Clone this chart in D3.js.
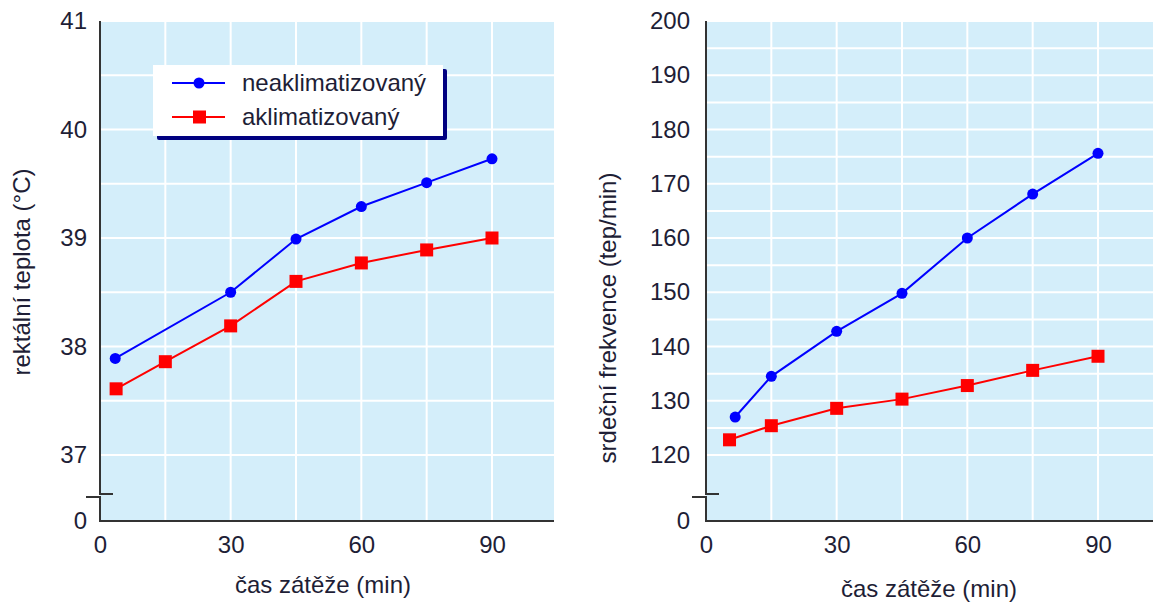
<!DOCTYPE html>
<html>
<head>
<meta charset="utf-8">
<script src="https://cdnjs.cloudflare.com/ajax/libs/d3/7.8.5/d3.min.js"></script>
<style>
  body { margin: 0; background: #fff; }
  svg { display: block; }
</style>
</head>
<body>
<script>
// Données
const casTicks = [0, 30, 60, 90];
const casGrid = [15, 30, 45, 60, 75, 90];

const teplotaTicks = [0, 37, 38, 39, 40, 41];
const teplotaGrid = [37, 37.5, 38, 38.5, 39, 39.5, 40, 40.5, 41];
const casTeplotaNeaklim = [3.5, 30, 45, 60, 75, 90];
const teplotaNeaklim = [37.89, 38.5, 38.99, 39.29, 39.51, 39.73];
const casTeplotaAklim = [3.7, 15, 30, 45, 60, 75, 90];
const teplotaAklim = [37.61, 37.86, 38.19, 38.6, 38.77, 38.89, 39.0];

const frekvTicks = [0, 120, 130, 140, 150, 160, 170, 180, 190, 200];
const frekvGrid = [120, 125, 130, 135, 140, 145, 150, 155, 160, 165, 170, 175, 180, 185, 190, 195, 200];
const casFrekvNeaklim = [6.7, 15, 30, 45, 60, 75, 90];
const frekvNeaklim = [127, 134.5, 142.8, 149.8, 160, 168.1, 175.6];
const casFrekvAklim = [5.4, 15, 30, 45, 60, 75, 90];
const frekvAklim = [122.8, 125.4, 128.6, 130.3, 132.8, 135.6, 138.2];

const serie = ['neaklimatizovaný', 'aklimatizovaný'];
const barvy = ['#0000ff', '#ff0000'];

// Paramètres
const width = 1153;
const height = 605;
const plotTop = 21;
const plotBottom = 521;
const font = '"Liberation Sans", Arial, sans-serif';
const fontSize = 24;
const textColor = '#1e1e36';

const svg = d3.select('body')
  .append('svg')
  .attr('width', width)
  .attr('height', height)
  .style('font-family', font);

function panel(opt) {
  const g = svg.append('g');

  const x = d3.scaleLinear()
    .domain([0, 90])
    .range([opt.left, opt.left + 392]);

  // échelle brisée : 0 en bas, puis la partie utile
  const y = d3.scaleLinear()
    .domain([0, opt.yMin, opt.yMax])
    .range([plotBottom, 455, plotTop]);

  // fond
  g.append('rect')
    .attr('x', opt.left)
    .attr('y', plotTop)
    .attr('width', opt.right - opt.left)
    .attr('height', plotBottom - plotTop)
    .attr('fill', '#d4eefa');

  // grille
  g.append('g')
    .selectAll('line')
    .data(opt.yGrid)
    .join('line')
    .attr('x1', opt.left)
    .attr('x2', opt.right)
    .attr('y1', d => y(d))
    .attr('y2', d => y(d))
    .attr('stroke', '#fff')
    .attr('stroke-width', 2);

  g.append('g')
    .selectAll('line')
    .data(casGrid)
    .join('line')
    .attr('x1', d => x(d))
    .attr('x2', d => x(d))
    .attr('y1', plotTop)
    .attr('y2', plotBottom)
    .attr('stroke', '#fff')
    .attr('stroke-width', 2);

  // axes
  g.append('g')
    .attr('transform', `translate(${opt.left},0)`)
    .call(d3.axisLeft(y).tickValues(opt.yTicks).tickSize(0).tickPadding(opt.pad).tickFormat(d3.format('d')))
    .call(a => a.select('.domain').remove())
    .call(a => a.attr('font-size', fontSize).attr('font-family', font))
    .call(a => a.selectAll('text').attr('fill', textColor));

  g.append('g')
    .attr('transform', `translate(0,${plotBottom})`)
    .call(d3.axisBottom(x).tickValues(casTicks).tickSize(0).tickPadding(15))
    .call(a => a.select('.domain').remove())
    .call(a => a.attr('font-size', fontSize).attr('font-family', font))
    .call(a => a.selectAll('text').attr('fill', textColor));

  // traits des axes avec la coupure
  const br = plotBottom - 27;
  g.append('path')
    .attr('d', `M${opt.left},${plotTop}V${br}H${opt.left + 13}`)
    .attr('fill', 'none')
    .attr('stroke', '#333')
    .attr('stroke-width', 2);
  g.append('path')
    .attr('d', `M${opt.left - 14},${br + 3}H${opt.left}V${plotBottom}H${opt.right}`)
    .attr('fill', 'none')
    .attr('stroke', '#333')
    .attr('stroke-width', 2);

  // séries
  opt.series.forEach((s, i) => {
    const pts = d3.zip(s.cas, s.hodnoty);
    g.append('path')
      .datum(pts)
      .attr('d', d3.line().x(d => x(d[0])).y(d => y(d[1])))
      .attr('fill', 'none')
      .attr('stroke', barvy[i])
      .attr('stroke-width', 2);

    if (i === 0) {
      g.append('g')
        .selectAll('circle')
        .data(pts)
        .join('circle')
        .attr('cx', d => x(d[0]))
        .attr('cy', d => y(d[1]))
        .attr('r', 5.5)
        .attr('fill', barvy[i]);
    } else {
      g.append('g')
        .selectAll('rect')
        .data(pts)
        .join('rect')
        .attr('x', d => x(d[0]) - 6.5)
        .attr('y', d => y(d[1]) - 6.5)
        .attr('width', 13)
        .attr('height', 13)
        .attr('fill', barvy[i]);
    }
  });

  // titres
  g.append('text')
    .attr('x', opt.left + 223)
    .attr('y', opt.xTitleY)
    .attr('text-anchor', 'middle')
    .attr('font-size', fontSize)
    .attr('fill', textColor)
    .text('čas zátěže (min)');

  g.append('text')
    .attr('transform', `translate(${opt.yTitleX},${opt.yTitleMid}) rotate(-90)`)
    .attr('text-anchor', 'middle')
    .attr('font-size', fontSize)
    .attr('fill', textColor)
    .text(opt.yTitle);
}

panel({
  left: 100,
  right: 554,
  yMin: 37,
  yMax: 41,
  yTicks: teplotaTicks,
  yGrid: teplotaGrid,
  pad: 13,
  xTitleY: 593,
  yTitleX: 30,
  yTitleMid: 272,
  yTitle: 'rektální teplota (°C)',
  series: [
    { cas: casTeplotaNeaklim, hodnoty: teplotaNeaklim },
    { cas: casTeplotaAklim, hodnoty: teplotaAklim }
  ]
});

panel({
  left: 706,
  right: 1160,
  yMin: 120,
  yMax: 200,
  yTicks: frekvTicks,
  yGrid: frekvGrid,
  pad: 16,
  xTitleY: 597,
  yTitleX: 616,
  yTitleMid: 318,
  yTitle: 'srdeční frekvence (tep/min)',
  series: [
    { cas: casFrekvNeaklim, hodnoty: frekvNeaklim },
    { cas: casFrekvAklim, hodnoty: frekvAklim }
  ]
});

// légende
const leg = svg.append('g').attr('transform', 'translate(153,65)');
leg.append('rect')
  .attr('x', 4).attr('y', 4)
  .attr('width', 290).attr('height', 71)
  .attr('rx', 2)
  .attr('fill', '#000080');
leg.append('rect')
  .attr('width', 290).attr('height', 71)
  .attr('fill', '#fff');

const item = leg.selectAll('g')
  .data(serie)
  .join('g')
  .attr('transform', (d, i) => `translate(0,${18 + i * 34})`);

item.append('line')
  .attr('x1', 19).attr('x2', 72)
  .attr('stroke', (d, i) => barvy[i])
  .attr('stroke-width', 2);

item.filter((d, i) => i === 0)
  .append('circle')
  .attr('cx', 46).attr('r', 5.5)
  .attr('fill', barvy[0]);

item.filter((d, i) => i === 1)
  .append('rect')
  .attr('x', 40).attr('y', -6.5)
  .attr('width', 13).attr('height', 13)
  .attr('fill', barvy[1]);

item.append('text')
  .attr('x', 89)
  .attr('dy', '0.35em')
  .attr('font-size', fontSize)
  .attr('fill', textColor)
  .text(d => d);
</script>
</body>
</html>
